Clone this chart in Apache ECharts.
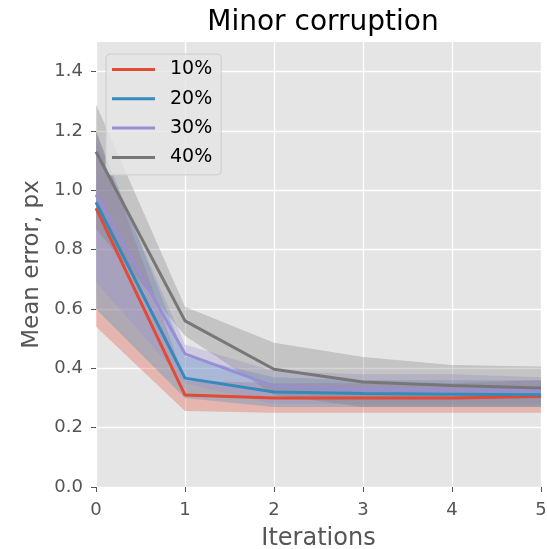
<!DOCTYPE html>
<html>
<head>
<meta charset="utf-8">
<script src="https://cdn.jsdelivr.net/npm/echarts@6/dist/echarts.min.js"></script>
<style>html,body{margin:0;padding:0;background:#fff}#c{width:547px;height:549px}</style>
</head>
<body>
<div id="c"></div>
<script>
const iterations = ['0', '1', '2', '3', '4', '5'];
const names = ['10%', '20%', '30%', '40%'];
const colors = ['#E24A33', '#348ABD', '#988ED5', '#777777'];

const mean10 = [0.94, 0.31, 0.30, 0.30, 0.30, 0.305];
const low10  = [0.54, 0.256, 0.25, 0.25, 0.25, 0.25];
const up10   = [1.20, 0.36, 0.35, 0.35, 0.35, 0.36];

const mean20 = [0.96, 0.367, 0.32, 0.315, 0.313, 0.311];
const low20  = [0.60, 0.30, 0.27, 0.27, 0.27, 0.27];
const up20   = [1.20, 0.44, 0.37, 0.36, 0.36, 0.36];

const mean30 = [0.985, 0.449, 0.34, 0.33, 0.327, 0.325];
const low30  = [0.69, 0.35, 0.28, 0.28, 0.28, 0.28];
const up30   = [1.17, 0.48, 0.39, 0.38, 0.38, 0.37];

const mean40 = [1.13, 0.56, 0.397, 0.354, 0.342, 0.334];
const low40  = [0.87, 0.51, 0.31, 0.27, 0.27, 0.27];
const up40   = [1.29, 0.608, 0.486, 0.438, 0.411, 0.406];

const yTicks = [0, 0.2, 0.4, 0.6, 0.8, 1.0, 1.2, 1.4];

const means = [mean10, mean20, mean30, mean40];
const lows = [low10, low20, low30, low40];
const ups = [up10, up20, up30, up40];

const series = [];
for (let i = 0; i < 4; i++) {
  series.push({
    name: 'lo' + i, type: 'line', stack: 'band' + i, data: lows[i],
    symbol: 'none', lineStyle: {opacity: 0}, silent: true, z: 1
  });
  series.push({
    name: 'band' + i, type: 'line', stack: 'band' + i,
    data: ups[i].map((u, k) => +(u - lows[i][k]).toFixed(4)),
    symbol: 'none', lineStyle: {opacity: 0},
    areaStyle: {color: colors[i], opacity: 0.3}, silent: true, z: 1
  });
}
for (let i = 0; i < 4; i++) {
  series.push({
    name: names[i], type: 'line', data: means[i], symbol: 'none',
    lineStyle: {color: colors[i], width: 3}, itemStyle: {color: colors[i]}, z: 5
  });
}

const chart = echarts.init(document.getElementById('c'), null, {renderer: 'canvas'});
chart.setOption({
  animation: false,
  backgroundColor: '#ffffff',
  title: {
    text: 'Minor corruption', left: 318, top: 4, textAlign: 'center',
    textStyle: {fontFamily: 'DejaVu Sans', fontSize: 28, fontWeight: 'normal', color: '#000'}
  },
  grid: {left: 96, right: 6, top: 42, bottom: 62, show: true, backgroundColor: '#E5E5E5', borderWidth: 0,
    containLabel: false, outerBoundsMode: 'none'},
  legend: {
    data: names, left: 106, top: 54, orient: 'vertical',
    icon: 'rect', itemWidth: 43, itemHeight: 3, itemGap: 10.3,
    backgroundColor: 'rgba(229,229,229,0.8)', borderColor: '#cccccc', borderWidth: 1, borderRadius: 4,
    padding: [6, 9, 8, 6],
    textStyle: {fontFamily: 'DejaVu Sans', fontSize: 19, color: '#000', lineHeight: 19, padding: [0, 0, 0, 10]}
  },
  xAxis: {
    type: 'category', data: iterations, boundaryGap: false,
    name: 'Iterations', nameLocation: 'middle', nameGap: 40,
    nameTextStyle: {fontFamily: 'DejaVu Sans', fontSize: 24, color: '#555'},
    axisLine: {show: false},
    axisTick: {show: true, alignWithLabel: true, length: 5, lineStyle: {color: '#555'}},
    axisLabel: {fontFamily: 'DejaVu Sans', fontSize: 18, color: '#555', margin: 14},
    splitLine: {show: true, lineStyle: {color: '#fff', width: 1.3}}
  },
  yAxis: {
    type: 'value', min: 0, max: 1.5, interval: 0.2,
    name: 'Mean error, px', nameLocation: 'middle', nameGap: 52,
    nameTextStyle: {fontFamily: 'DejaVu Sans', fontSize: 23, color: '#555'},
    axisLine: {show: false},
    axisTick: {show: true, length: 5, lineStyle: {color: '#555'}, customValues: yTicks},
    axisLabel: {fontFamily: 'DejaVu Sans', fontSize: 18, color: '#555', margin: 13,
      customValues: yTicks, formatter: v => v.toFixed(1)},
    splitLine: {show: true, lineStyle: {color: '#fff', width: 1.3}}
  },
  series: series
});
</script>
</body>
</html>
